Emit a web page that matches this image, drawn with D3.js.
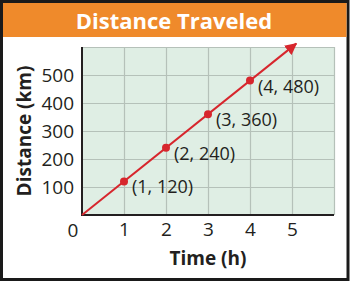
<!DOCTYPE html>
<html>
<head>
<meta charset="utf-8">
<script src="https://cdn.jsdelivr.net/npm/d3@7"></script>
<style>
  body { margin: 0; background: white; }
  svg { display: block; }
</style>
</head>
<body>
<svg id="chart"></svg>
<script>
// ----------------------------------------- Data -----------------------------------------

var hours = [1, 2, 3, 4];
var distances = [120, 240, 360, 480];
var xTicks = [1, 2, 3, 4, 5];
var yTicks = [100, 200, 300, 400, 500];
var title = 'Distance Traveled';
var xTitle = 'Time (h)';
var yTitle = 'Distance (km)';

// ----------------------------------------- SVG -----------------------------------------

var width = 350;
var height = 284;

var svg = d3.select('#chart')
            .attr('width', width)
            .attr('height', height);

// Frame and title band
svg.append('rect')
    .attr('x', 1.5)
    .attr('y', 1.5)
    .attr('width', width - 3.5)
    .attr('height', 278)
    .attr('fill', 'white')
    .attr('stroke', '#1a1a1a')
    .attr('stroke-width', 3);

svg.append('rect')
    .attr('x', 3)
    .attr('y', 3)
    .attr('width', width - 6.5)
    .attr('height', 34)
    .attr('fill', '#ef8a2b');

svg.append('text')
    .text(title)
    .attr('x', 174)
    .attr('y', 29)
    .attr('text-anchor', 'middle')
    .attr('font-family', 'Open Sans')
    .attr('font-weight', 'bold')
    .attr('font-size', '22px')
    .attr('fill', 'white');

// Scales
var xScale = d3.scaleLinear()
               .domain([0, 6])
               .range([82, 334]);

var yScale = d3.scaleLinear()
               .domain([0, 600])
               .range([215, 47]);

// Plot background
svg.append('rect')
    .attr('x', xScale(0))
    .attr('y', yScale(600))
    .attr('width', xScale(6) - xScale(0))
    .attr('height', yScale(0) - yScale(600))
    .attr('fill', '#dfeee4');

// Grid
svg.append('g')
    .attr('transform', `translate(0, ${yScale(0)})`)
    .call(d3.axisBottom(xScale)
            .tickValues(d3.range(1, 7))
            .tickSize(-(yScale(0) - yScale(600)))
            .tickFormat(''))
    .call(g => g.select('.domain').remove())
    .selectAll('line')
      .attr('stroke', '#b5c1b9')
      .attr('stroke-width', 1.2);

svg.append('g')
    .attr('transform', `translate(${xScale(0)}, 0)`)
    .call(d3.axisLeft(yScale)
            .tickValues(d3.range(100, 700, 100))
            .tickSize(-(xScale(6) - xScale(0)))
            .tickFormat(''))
    .call(g => g.select('.domain').remove())
    .selectAll('line')
      .attr('stroke', '#b5c1b9')
      .attr('stroke-width', 1.2);

// Axis lines
svg.append('line')
    .attr('x1', xScale(0))
    .attr('x2', xScale(0))
    .attr('y1', yScale(600))
    .attr('y2', yScale(0))
    .attr('stroke', '#231f20')
    .attr('stroke-width', 2);

svg.append('line')
    .attr('x1', xScale(0) - 1)
    .attr('x2', xScale(6))
    .attr('y1', yScale(0))
    .attr('y2', yScale(0))
    .attr('stroke', '#231f20')
    .attr('stroke-width', 2);

// Tick labels
svg.append('g')
    .attr('transform', `translate(0, ${yScale(0)})`)
    .call(d3.axisBottom(xScale).tickValues(xTicks).tickFormat(d3.format('d')).tickSize(0).tickPadding(8))
    .call(g => g.select('.domain').remove())
    .selectAll('text')
      .attr('font-family', 'Open Sans')
      .attr('font-size', '19px')
      .attr('fill', '#231f20');

svg.append('g')
    .attr('transform', `translate(${xScale(0)}, 0)`)
    .call(d3.axisLeft(yScale).tickValues(yTicks).tickFormat(d3.format('d')).tickSize(0).tickPadding(8))
    .call(g => g.select('.domain').remove())
    .selectAll('text')
      .attr('font-family', 'Open Sans')
      .attr('font-size', '19px')
      .attr('fill', '#231f20');

svg.append('text')
    .text('0')
    .attr('x', xScale(0) - 9)
    .attr('y', 237)
    .attr('text-anchor', 'middle')
    .attr('font-family', 'Open Sans')
    .attr('font-size', '19px')
    .attr('fill', '#231f20');

// Axis titles
svg.append('text')
    .text(xTitle)
    .attr('x', (xScale(0) + xScale(6)) / 2)
    .attr('y', 265)
    .attr('text-anchor', 'middle')
    .attr('font-family', 'Open Sans')
    .attr('font-weight', 'bold')
    .attr('font-size', '19px')
    .attr('fill', '#231f20');

svg.append('text')
    .text(yTitle)
    .attr('transform', 'rotate(-90)')
    .attr('x', -(yScale(0) + yScale(600)) / 2)
    .attr('y', 31)
    .attr('text-anchor', 'middle')
    .attr('font-family', 'Open Sans')
    .attr('font-weight', 'bold')
    .attr('font-size', '19px')
    .attr('fill', '#231f20');

// ----------------------------------------- Line with arrow -----------------------------------------

var red = '#d7262d';

svg.append('defs')
  .append('marker')
    .attr('id', 'arrow')
    .attr('viewBox', '0 0 10 10')
    .attr('refX', 9)
    .attr('refY', 5)
    .attr('markerWidth', 6)
    .attr('markerHeight', 6)
    .attr('markerUnits', 'strokeWidth')
    .attr('orient', 'auto')
  .append('path')
    .attr('d', 'M0,0 L10,5 L0,10 z')
    .attr('fill', red);

var rate = distances[0] / hours[0];
var lineEnd = 5.1;

svg.append('line')
    .attr('x1', xScale(0))
    .attr('y1', yScale(0))
    .attr('x2', xScale(lineEnd))
    .attr('y2', yScale(lineEnd * rate))
    .attr('stroke', red)
    .attr('stroke-width', 2)
    .attr('marker-end', 'url(#arrow)');

// Points
var points = hours.map((h, i) => ({ h: h, d: distances[i] }));

svg.selectAll('circle.pt')
    .data(points)
    .enter()
    .append('circle')
      .classed('pt', true)
      .attr('cx', d => xScale(d.h))
      .attr('cy', d => yScale(d.d))
      .attr('r', 4)
      .attr('fill', red);

svg.selectAll('text.pt-label')
    .data(points)
    .enter()
    .append('text')
      .classed('pt-label', true)
      .text(d => `(${d.h}, ${d.d})`)
      .attr('x', d => xScale(d.h) + 8)
      .attr('y', d => yScale(d.d) + 12)
      .attr('font-family', 'Open Sans')
      .attr('font-size', '18px')
      .attr('fill', '#231f20');
</script>
</body>
</html>
